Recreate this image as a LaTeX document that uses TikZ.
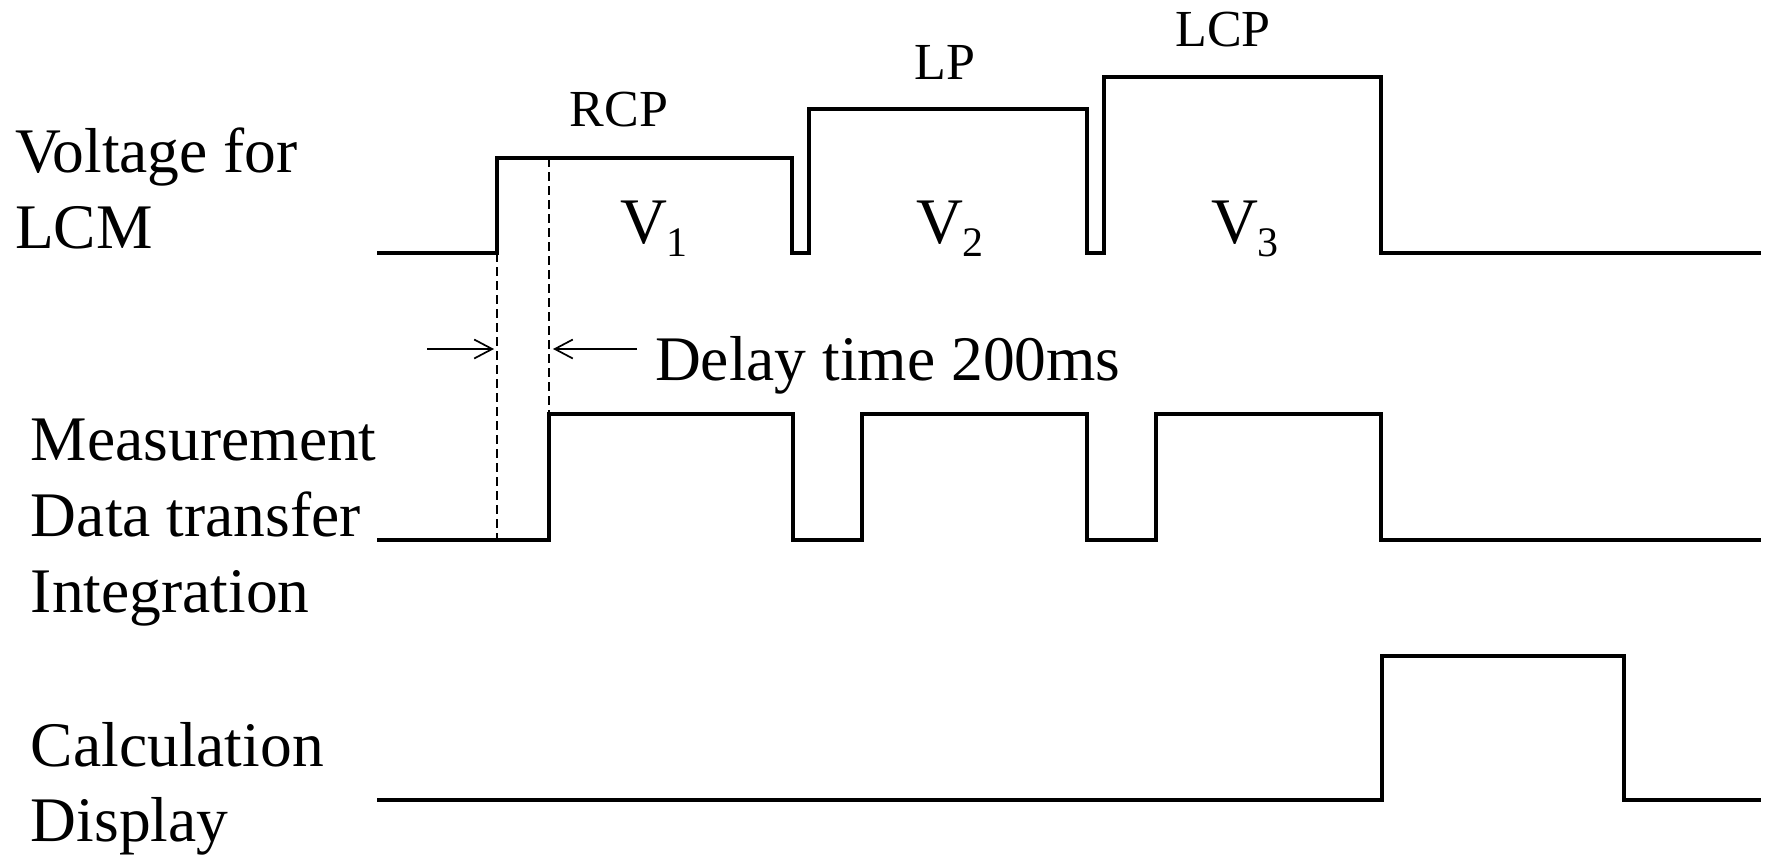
\documentclass[tikz,border=0pt]{standalone}
\usepackage{fontspec}
\setmainfont{Liberation Serif}
\usetikzlibrary{arrows.meta}
\tikzset{
  wave/.style={line width=1.8pt, line join=miter},
  guide/.style={line width=0.8pt, dash pattern=on 4.5pt off 2.5pt},
  dimarrow/.style={line width=0.85pt, -{Straight Barb[length=9pt,width=9.5pt,line width=0.85pt]}},
  lbl/.style={inner sep=0pt, outer sep=0pt, anchor=base west, font=\fontsize{31.75}{36}\selectfont},
  toplbl/.style={inner sep=0pt, outer sep=0pt, anchor=base, font=\fontsize{26}{30}\selectfont},
  vlbl/.style={inner sep=0pt, outer sep=0pt, anchor=base west}
}
\newcommand{\Vsub}[1]{{\fontsize{32.5}{36}\selectfont V}\raisebox{-6.5pt}{\fontsize{21}{24}\selectfont #1}}
\begin{document}
\begin{tikzpicture}[x=0.5pt,y=-0.5pt]
\useasboundingbox (0,0) rectangle (1766,857);
% left labels
\node[lbl] (volt) at (15,172) {Voltage for};
\node[lbl] (lcm) at (15,248) {LCM};
\node[lbl] (meas) at (31,460) {Measurement};
\node[lbl] (data) at (31,536) {Data transfer};
\node[lbl] (integ) at (31,612) {Integration};
\node[lbl] (calc) at (31,766) {Calculation};
\node[lbl] (disp) at (31,841) {Display};
% top labels
\node[toplbl] (rcp) at (619,126) {RCP};
\node[toplbl] (lp) at (945,79) {LP};
\node[toplbl] (lcp) at (1223,46) {LCP};
% V labels
\node[vlbl] (v1) at (620,243) {\Vsub{1}};
\node[vlbl] (v2) at (916,243) {\Vsub{2}};
\node[vlbl] (v3) at (1211,243) {\Vsub{3}};
% delay text
\node[lbl] (delay) at (655,380) {Delay time 200ms};
% waveforms
\draw[wave] (377,253) -- (497,253) -- (497,158) -- (792,158) -- (792,253) -- (809,253)
  -- (809,109) -- (1087,109) -- (1087,253) -- (1104,253) -- (1104,77) -- (1381,77)
  -- (1381,253) -- (1761,253);
\draw[wave] (377,540) -- (549,540) -- (549,414) -- (793,414) -- (793,540) -- (862,540)
  -- (862,414) -- (1087,414) -- (1087,540) -- (1156,540) -- (1156,414) -- (1381,414)
  -- (1381,540) -- (1761,540);
\draw[wave] (377,800) -- (1382,800) -- (1382,656) -- (1624,656) -- (1624,800) -- (1761,800);
% guides
\coordinate (g1t) at (497,253);
\coordinate (g1b) at (497,540);
\coordinate (g2t) at (549,158);
\coordinate (g2b) at (549,414);
\draw[guide] (g1t) -- (g1b);
\draw[guide] (g2t) -- (g2b);
% delay arrows
\coordinate (a1s) at (427,349);
\coordinate (a1e) at (494,349);
\coordinate (a2s) at (637,349);
\coordinate (a2e) at (553,349);
\draw[dimarrow] (a1s) -- (a1e);
\draw[dimarrow] (a2s) -- (a2e);
\end{tikzpicture}
\end{document}
